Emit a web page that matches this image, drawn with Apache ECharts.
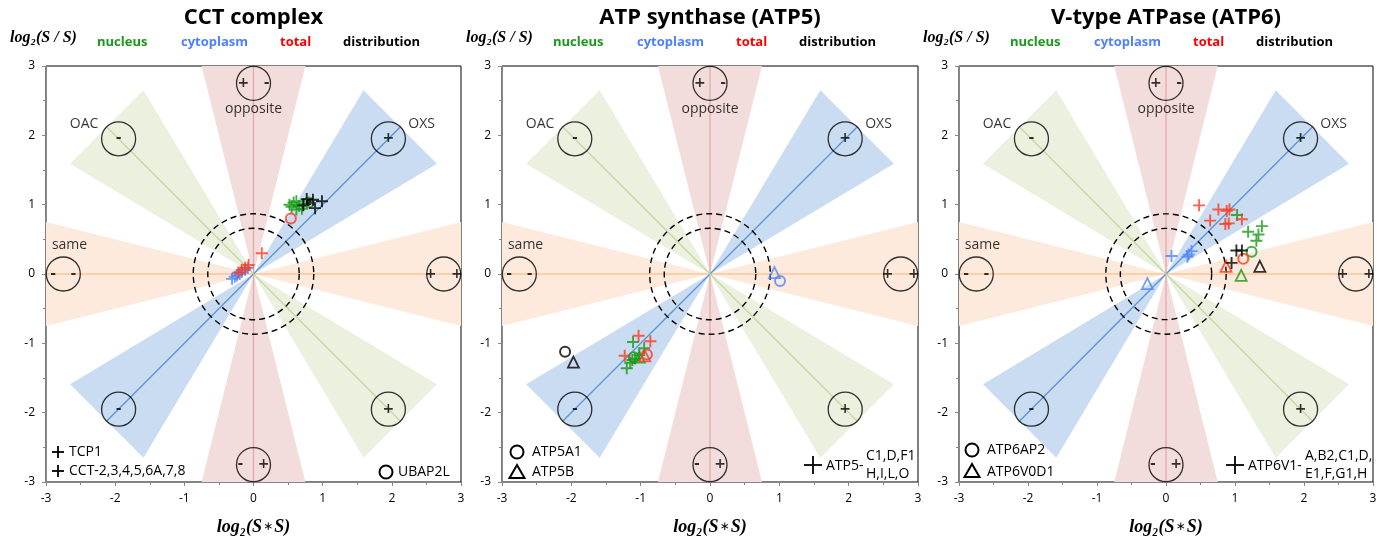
<!DOCTYPE html>
<html><head><meta charset="utf-8">
<script src="https://cdn.jsdelivr.net/npm/echarts@6/dist/echarts.min.js"></script>
<style>html,body{margin:0;padding:0;background:#fff}#c{width:1391px;height:541px}</style>
</head><body><div id="c"></div>
<script>
// ---------- data ----------
const titles = ['CCT complex', 'ATP synthase (ATP5)', 'V-type ATPase (ATP6)'];
const axisTicks = [-3, -2, -1, 0, 1, 2, 3];
const channelNames = ['nucleus', 'cytoplasm', 'total', 'distribution'];

// CCT complex
const cct_nuc_plus = [[0.52,1.00],[0.55,0.97],[0.58,1.03],[0.62,1.05],[0.66,0.98],[0.70,0.94],[0.62,0.93],[0.72,1.01]];
const cct_nuc_circle = [[0.80,1.03]];
const cct_cyt_plus = [[-0.31,-0.07],[-0.27,-0.04],[-0.24,-0.02],[-0.20,0.00],[-0.17,0.03],[-0.12,0.06],[-0.08,0.09]];
const cct_tot_plus = [[0.12,0.30],[-0.22,0.02],[-0.17,0.06],[-0.12,0.09],[-0.07,0.13]];
const cct_tot_circle = [[0.54,0.80]];
const cct_dis_plus = [[0.72,0.99],[0.77,1.08],[0.86,1.07],[0.99,1.05],[0.89,0.95]];
const cct_dis_dot = [[0.80,1.03]];

// ATP synthase
const atp5_nuc_plus = [[-1.11,-0.98],[-0.95,-1.07],[-1.20,-1.36],[-1.15,-1.28],[-1.08,-1.22],[-1.02,-1.17],[-1.12,-1.24]];
const atp5_nuc_circle = [[-1.10,-1.20]];
const atp5_nuc_tri = [[-1.02,-1.20]];
const atp5_cyt_circle = [[1.01,-0.10]];
const atp5_cyt_tri = [[0.93,0.02]];
const atp5_tot_plus = [[-1.03,-0.89],[-0.86,-0.97],[-1.23,-1.18]];
const atp5_tot_circle = [[-0.91,-1.16]];
const atp5_tot_tri = [[-0.94,-1.18]];
const atp5_dis_circle = [[-2.09,-1.12]];
const atp5_dis_tri = [[-1.97,-1.27]];

// V-type ATPase
const atp6_nuc_plus = [[1.03,0.85],[1.39,0.69],[1.19,0.61],[1.34,0.57],[1.31,0.48]];
const atp6_nuc_circle = [[1.24,0.32]];
const atp6_nuc_tri = [[1.09,-0.02]];
const atp6_cyt_plus = [[0.08,0.26],[0.31,0.25],[0.37,0.33],[0.33,0.28]];
const atp6_cyt_tri = [[-0.27,-0.14]];
const atp6_tot_plus = [[0.48,0.99],[0.76,0.93],[0.88,0.91],[0.92,0.93],[0.64,0.77],[0.86,0.72],[0.91,0.73],[1.10,0.79]];
const atp6_tot_circle = [[1.12,0.22]];
const atp6_tot_tri = [[0.87,0.11]];
const atp6_dis_plus = [[1.02,0.34],[1.10,0.34],[0.95,0.16]];
const atp6_dis_tri = [[1.36,0.11]];

// reference geometry (data units)
const wedgeDirs = [0, 180, 90, 270, 45, 225, 135, 315];
const wedgeLength = 3;
const wedgeHalfWidth = 0.75;
const dashedRadii = [0.66, 0.87];
const markerPos = [[-1.95,1.95],[1.95,1.95],[-1.95,-1.95],[1.95,-1.95],[0,2.75],[0,-2.75],[-2.75,0],[2.75,0]];
const markerText = ['-', '+', '-', '+', '+   -', '-   +', '-   -', '+   +'];
const regionLabels = [['OAC',-2.45,2.17],['OXS',2.43,2.17],['opposite',0,2.38],['same',-2.66,0.42]];

// ---------- styles ----------
const C = {nuc:'#179a17', cyt:'#4d86ff', tot:'#ff3a1a', dis:'#000000'};
const textC = {nucleus:'#1a9a1a', cytoplasm:'#4d7fff', total:'#ff0000', distribution:'#000'};
const wedgeFill = {0:'#fdeadd',180:'#fdeadd',90:'#f3dddc',270:'#f3dddc',45:'#cadcf1',225:'#cadcf1',135:'#ebf0df',315:'#ebf0df'};
const wedgeLine = {0:'#fac796',180:'#fac796',90:'#e3a9a7',270:'#e3a9a7',45:'#5b93d8',225:'#5b93d8',135:'#c6d8a0',315:'#c6d8a0'};
const PLUS = 'path://M-1,-0.16L-0.16,-0.16L-0.16,-1L0.16,-1L0.16,-0.16L1,-0.16L1,0.16L0.16,0.16L0.16,1L-0.16,1L-0.16,0.16L-1,0.16Z';
const SANS = 'Open Sans';

const panels = [
  [[cct_nuc_plus,'nuc','plus'],[cct_nuc_circle,'nuc','circle'],[cct_cyt_plus,'cyt','plus'],[cct_tot_plus,'tot','plus'],[cct_tot_circle,'tot','circle'],[cct_dis_plus,'dis','plus'],[cct_dis_dot,'dis','dot']],
  [[atp5_nuc_plus,'nuc','plus'],[atp5_nuc_circle,'nuc','circle'],[atp5_nuc_tri,'nuc','tri'],[atp5_cyt_circle,'cyt','circle'],[atp5_cyt_tri,'cyt','tri'],[atp5_tot_plus,'tot','plus'],[atp5_tot_circle,'tot','circle'],[atp5_tot_tri,'tot','tri'],[atp5_dis_circle,'dis','circle'],[atp5_dis_tri,'dis','tri']],
  [[atp6_nuc_plus,'nuc','plus'],[atp6_nuc_circle,'nuc','circle'],[atp6_nuc_tri,'nuc','tri'],[atp6_cyt_plus,'cyt','plus'],[atp6_cyt_tri,'cyt','tri'],[atp6_tot_plus,'tot','plus'],[atp6_tot_circle,'tot','circle'],[atp6_tot_tri,'tot','tri'],[atp6_dis_plus,'dis','plus'],[atp6_dis_tri,'dis','tri']]
];

const grids = [
  {left:46, top:66, width:415, height:418},
  {left:502, top:66, width:416, height:418},
  {left:959, top:66, width:414, height:418}
];

function axisCommon(i) {
  return {
    gridIndex:i, type:'value', min:axisTicks[0], max:axisTicks[axisTicks.length-1], interval:1,
    axisLine:{show:true, onZero:false, lineStyle:{color:'#878787', width:1}},
    axisTick:{show:true, inside:false, length:4, lineStyle:{color:'#878787'}},
    minorTick:{show:true, splitNumber:2, length:3, lineStyle:{color:'#878787'}},
    splitLine:{show:false},
    axisLabel:{margin:11, color:'#000', fontFamily:SANS, fontSize:12}
  };
}

const serifBI = {fontFamily:'Liberation Serif', fontWeight:'bold', fontStyle:'italic', fontSize:18, color:'#000'};
const xAxis = [], yAxis = [], series = [], graphic = [];
grids.forEach((g, i) => {
  g.show = true; g.borderColor = '#000'; g.borderWidth = 1;
  xAxis.push(Object.assign(axisCommon(i), {
    name:'{a|log₂(S}{s|∗}{a|S)}', nameLocation:'middle', nameGap:36,
    nameTextStyle:{rich:{a:serifBI, s:{fontFamily:'DejaVu Sans', fontSize:12, color:'#000', padding:[0,1,0,1]}}}
  }));
  yAxis.push(axisCommon(i));

  const rad = d => d * Math.PI / 180;
  // wedges
  series.push({
    type:'custom', xAxisIndex:i, yAxisIndex:i, silent:true, z:1,
    data: wedgeDirs.map(d => [d]),
    renderItem: (params, api) => {
      const a = rad(api.value(0));
      const cx = wedgeLength*Math.cos(a), cy = wedgeLength*Math.sin(a);
      const px = -Math.sin(a)*wedgeHalfWidth, py = Math.cos(a)*wedgeHalfWidth;
      const pts = [api.coord([0,0]), api.coord([cx+px, cy+py]), api.coord([cx-px, cy-py])];
      return {type:'polygon', shape:{points:pts}, style:{fill:wedgeFill[api.value(0)], stroke:null}};
    }
  });
  // centre lines
  series.push({
    type:'custom', xAxisIndex:i, yAxisIndex:i, silent:true, z:2,
    data: wedgeDirs.map(d => [d]),
    renderItem: (params, api) => {
      const a = rad(api.value(0));
      const p0 = api.coord([0,0]), p1 = api.coord([wedgeLength*Math.cos(a), wedgeLength*Math.sin(a)]);
      return {type:'line', shape:{x1:p0[0], y1:p0[1], x2:p1[0], y2:p1[1]}, style:{stroke:wedgeLine[api.value(0)], lineWidth:1.3}};
    }
  });
  // dashed circles
  series.push({
    type:'custom', xAxisIndex:i, yAxisIndex:i, silent:true, z:3,
    data: dashedRadii.map(r => [0, 0, r]),
    renderItem: (params, api) => {
      const c = api.coord([api.value(0), api.value(1)]);
      const s = api.size([api.value(2), api.value(2)]);
      return {type:'circle', shape:{cx:c[0], cy:c[1], r:(s[0]+s[1])/2}, style:{fill:null, stroke:'#000', lineWidth:1.4, lineDash:[6,4]}};
    }
  });
  // reference circles
  series.push({
    type:'scatter', xAxisIndex:i, yAxisIndex:i, silent:true, z:4,
    data: markerPos, symbol:'circle', symbolSize:34,
    itemStyle:{color:'rgba(0,0,0,0)', borderColor:'#000', borderWidth:1.3},
    label:{show:true, position:'inside', formatter: p => markerText[p.dataIndex], color:'#000', fontFamily:'DejaVu Sans', fontWeight:'bold', fontSize:14}
  });
  // region labels
  series.push({
    type:'scatter', xAxisIndex:i, yAxisIndex:i, silent:true, z:4,
    data: regionLabels.map(r => [r[1], r[2]]), symbolSize:1, itemStyle:{color:'rgba(0,0,0,0)'},
    label:{show:true, position:'inside', formatter: p => regionLabels[p.dataIndex][0], color:'#000', fontFamily:SANS, fontSize:14}
  });
  // data points
  panels[i].forEach(([data, ch, shape]) => {
    const s = {type:'scatter', xAxisIndex:i, yAxisIndex:i, silent:true, z:5, data:data};
    if (shape === 'plus') { s.symbol = PLUS; s.symbolSize = 12; s.itemStyle = {color:C[ch]}; }
    else if (shape === 'circle') { s.symbol = 'circle'; s.symbolSize = 10; s.itemStyle = {color:'rgba(0,0,0,0)', borderColor:C[ch], borderWidth:2}; }
    else if (shape === 'tri') { s.symbol = 'triangle'; s.symbolSize = 11; s.itemStyle = {color:'rgba(0,0,0,0)', borderColor:C[ch], borderWidth:1.8}; }
    else { s.symbol = 'circle'; s.symbolSize = 6; s.itemStyle = {color:C[ch]}; }
    series.push(s);
  });

  // header texts
  const L = g.left, Cx = g.left + g.width/2;
  graphic.push({type:'text', x:Cx, y:18, style:{text:titles[i], font:'bold 22px "Open Sans"', fill:'#000', textAlign:'center', textVerticalAlign:'middle'}});
  graphic.push({type:'text', x:L-36, y:38, style:{text:'log₂(S / S)', font:'italic bold 16px "Liberation Serif"', fill:'#000', textAlign:'left', textVerticalAlign:'middle'}});
  const offs = [51, 135, 234, 297];
  channelNames.forEach((n, k) => {
    graphic.push({type:'text', x:L+offs[k], y:42, style:{text:n, font:'bold 13px "Open Sans"', fill:textC[n], textAlign:'left', textVerticalAlign:'middle'}});
  });
});

// legend annotations
function gtext(x, y, t, size) {
  graphic.push({type:'text', x:x, y:y, style:{text:t, font:(size||14)+'px "Open Sans"', fill:'#000', textAlign:'left', textVerticalAlign:'middle'}});
}
function gplus(x, y, h) {
  graphic.push({type:'group', x:x, y:y, children:[
    {type:'line', shape:{x1:-h, y1:0, x2:h, y2:0}, style:{stroke:'#000', lineWidth:1.8}},
    {type:'line', shape:{x1:0, y1:-h, x2:0, y2:h}, style:{stroke:'#000', lineWidth:1.8}}
  ]});
}
function gcircle(x, y) { graphic.push({type:'circle', shape:{cx:x, cy:y, r:6.5}, style:{fill:null, stroke:'#000', lineWidth:2}}); }
function gtri(x, y) { graphic.push({type:'polygon', shape:{points:[[x, y-7],[x+7.5, y+6],[x-7.5, y+6]]}, style:{fill:null, stroke:'#000', lineWidth:2}}); }

let L0 = grids[0].left;
gplus(L0+12, 452, 6); gtext(L0+23, 452, 'TCP1');
gplus(L0+12, 471, 6); gtext(L0+23, 471, 'CCT-2,3,4,5,6A,7,8');
gcircle(L0+340, 472); gtext(L0+352, 472, 'UBAP2L');

let L1 = grids[1].left;
gcircle(L1+15, 452); gtext(L1+30, 452, 'ATP5A1');
gtri(L1+15, 472); gtext(L1+30, 472, 'ATP5B');
gplus(L1+311, 465, 9); gtext(L1+324, 466, 'ATP5-');
gtext(L1+364, 456, 'C1,D,F1'); gtext(L1+364, 474, 'H,I,L,O');

let L2 = grids[2].left;
gcircle(L2+13, 450); gtext(L2+28, 450, 'ATP6AP2');
gtri(L2+13, 471); gtext(L2+28, 472, 'ATP6V0D1');
gplus(L2+276, 465, 9); gtext(L2+289, 466, 'ATP6V1-');
gtext(L2+346, 456, 'A,B2,C1,D,'); gtext(L2+346, 474, 'E1,F,G1,H');

const chart = echarts.init(document.getElementById('c'), null, {renderer:'canvas'});
chart.setOption({animation:false, backgroundColor:'#fff', grid:grids, xAxis:xAxis, yAxis:yAxis, series:series, graphic:graphic});
</script></body></html>
